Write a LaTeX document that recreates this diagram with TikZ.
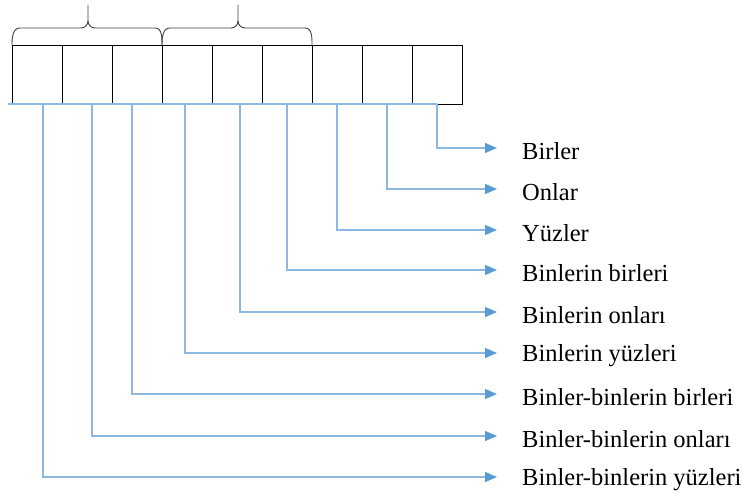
\documentclass[tikz,border=0pt]{standalone}
\usepackage{fontspec}
\setmainfont{Liberation Serif}
\usetikzlibrary{arrows.meta,calc}
\definecolor{conn}{HTML}{5B9BD5}
\definecolor{connl}{HTML}{8DB8E2}
\begin{document}
\begin{tikzpicture}[x=1pt,y=1pt,
  cellbox/.style={draw=black,line width=0.9pt,minimum width=50pt,minimum height=59pt,inner sep=0pt,outer sep=0pt},
  lbl/.style={anchor=west,inner sep=0pt,font=\fontsize{24.5}{29}\selectfont},
  conline/.style={draw=connl,line width=1.3pt,-{Triangle[length=12pt,width=10pt,fill=conn,color=conn]}},
  bracepath/.style={draw=black!75,line width=0.9pt}]
\useasboundingbox (0,0) rectangle (743,-494);
% cells
\foreach \i in {1,...,9}{
  \node[cellbox] (c\i) at ({12+50*(\i-1)+25},-74.5) {};
}
% braces
\draw[bracepath] (12,-45) to[out=90,in=180] (20,-28) -- (81,-28) to[out=0,in=-90] (88,-21) -- (88,-5);
\draw[bracepath] (88,-21) to[out=-90,in=180] (95,-28) -- (155,-28) to[out=0,in=90] (162,-45);
\draw[bracepath] (162,-45) to[out=90,in=180] (170,-28) -- (231,-28) to[out=0,in=-90] (238,-21) -- (238,-5);
\draw[bracepath] (238,-21) to[out=-90,in=180] (245,-28) -- (305,-28) to[out=0,in=90] (312,-45);
% blue base line
\coordinate (bl) at (8,-104);
\coordinate (br) at (c9.south);
\draw[connl,line width=1.3pt] (bl) -- (br);
% labels
\node[lbl] (l1) at (522,-151) {Birler};
\node[lbl] (l2) at (522,-192) {Onlar};
\node[lbl] (l3) at (522,-233) {Yüzler};
\node[lbl] (l4) at (522,-273) {Binlerin birleri};
\node[lbl] (l5) at (522,-315) {Binlerin onları};
\node[lbl] (l6) at (522,-356) {Binlerin yüzleri};
\node[lbl] (l7) at (522,-397) {Binler-binlerin birleri};
\node[lbl] (l8) at (522,-439) {Binler-binlerin onları};
\node[lbl] (l9) at (522,-480) {Binler-binlerin yüzleri};
% arrow end points
\foreach \i/\y in {1/148,2/189,3/230,4/270,5/312,6/353,7/394,8/436,9/477}{
  \coordinate (e\i) at (497,-\y);
}
% connectors
\draw[conline] (c9.south) |- (e1);
\draw[conline] (c8.south) |- (e2);
\draw[conline] (c7.south) |- (e3);
\draw[conline] (c6.south) |- (e4);
\draw[conline] ([xshift=3pt]c5.south) |- (e5);
\draw[conline] ([xshift=-2pt]c4.south) |- (e6);
\draw[conline] ([xshift=-5pt]c3.south) |- (e7);
\draw[conline] ([xshift=5pt]c2.south) |- (e8);
\draw[conline] ([xshift=6pt]c1.south) |- (e9);
\end{tikzpicture}
\end{document}
